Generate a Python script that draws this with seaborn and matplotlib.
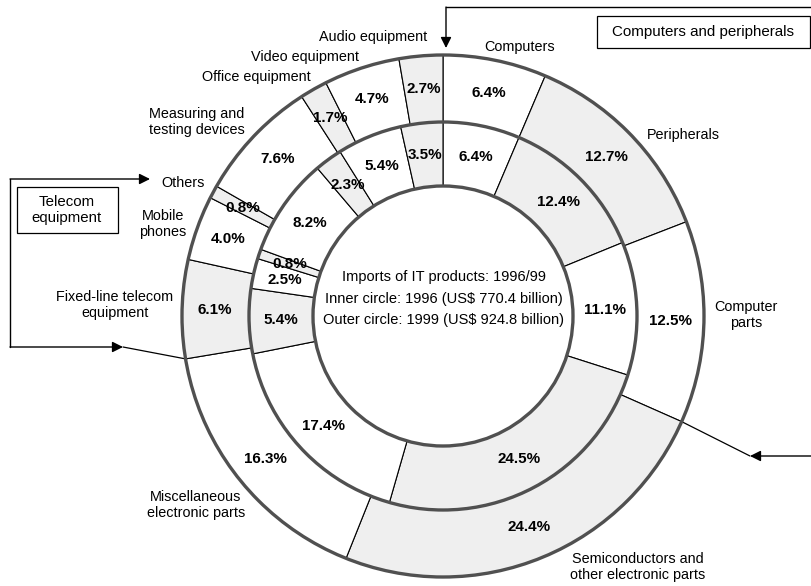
import numpy as np
import matplotlib
matplotlib.use("Agg")
import matplotlib.pyplot as plt
from matplotlib.patches import Circle, Rectangle
import seaborn as sns

# Data: shares of IT imports (%), clockwise from 12 o'clock
categories = ["Computers", "Peripherals", "Computer\nparts",
              "Semiconductors and\nother electronic parts",
              "Miscellaneous\nelectronic parts",
              "Fixed-line telecom\nequipment", "Mobile\nphones", "Others",
              "Measuring and\ntesting devices", "Office equipment",
              "Video equipment", "Audio equipment"]
share_1999 = [6.4, 12.7, 12.5, 24.4, 16.3, 6.1, 4.0, 0.8, 7.6, 1.7, 4.7, 2.7]
share_1996 = [6.4, 12.4, 11.1, 24.5, 17.4, 5.4, 2.5, 0.8, 8.2, 2.3, 5.4, 3.5]
center_lines = ["Imports of IT products: 1996/99",
                "Inner circle: 1996 (US$ 770.4 billion)",
                "Outer circle: 1999 (US$ 924.8 billion)"]

# Layout (pixel coordinates, y downwards)
CX, CY = 443, 316
R_OUT, R_MID, R_IN = 261, 194, 130
label_pos = [(520, 47), (683, 135), (746, 315), (638, 567), (196, 505),
             (115, 305), (163, 224), (183, 183), (197, 122), (256, 77),
             (305, 57), (373, 37)]

sns.set_theme(style="white")
plt.rcParams["font.family"] = ["Liberation Sans", "DejaVu Sans"]
plt.rcParams["text.color"] = "black"

fig = plt.figure(figsize=(8.12, 5.86), dpi=100)
ax = fig.add_axes([0, 0, 1, 1])

gray = "#efefef"
colors = ["white", gray] * 6
wp = dict(edgecolor="black", linewidth=0.8)

outer, _ = ax.pie(share_1999, radius=R_OUT, center=(CX, CY), startangle=-90,
                  counterclock=True, colors=colors,
                  wedgeprops=dict(width=R_OUT - R_MID, **wp))
inner, _ = ax.pie(share_1996, radius=R_MID, center=(CX, CY), startangle=-90,
                  counterclock=True, colors=colors,
                  wedgeprops=dict(width=R_MID - R_IN, **wp))

ax.set_xlim(0, 812)
ax.set_ylim(586, 0)
ax.set_aspect("equal")
ax.axis("off")

# thick ring outlines
for r in (R_OUT, R_MID, R_IN):
    ax.add_patch(Circle((CX, CY), r, fill=False, ec="#505050", lw=2.4, zorder=5))


def polar(theta, r):
    t = np.deg2rad(theta)
    return CX + r * np.cos(t), CY + r * np.sin(t)


# percentage labels at the middle of each wedge
for wedges, vals, rr in ((outer, share_1999, 228), (inner, share_1996, 162)):
    for w, v in zip(wedges, vals):
        x, y = polar((w.theta1 + w.theta2) / 2, rr)
        ax.text(x, y, f"{v:.1f}%", ha="center", va="center",
                fontsize=10.9, fontweight="bold", color="black", zorder=6)

# category labels
for name, (x, y) in zip(categories, label_pos):
    ax.text(x, y, name, ha="center", va="center", fontsize=10.4,
            linespacing=1.15, color="black", zorder=6)

# centre text
for i, line in enumerate(center_lines):
    ax.text(CX + 1, 277 + i * 21.5, line, ha="center", va="center",
            fontsize=10.5, color="black")

arrow = dict(arrowstyle="-|>", color="black", lw=1, mutation_scale=16,
             shrinkA=0, shrinkB=0)

# Computers and peripherals group
ax.add_patch(Rectangle((597, 16), 213, 32, fill=True, fc="white", ec="black", lw=0.9))
ax.text(703, 32, "Computers and peripherals", ha="center", va="center",
        fontsize=10.9, color="black")
ax.plot([812, 446], [7, 7], color="black", lw=1)
ax.annotate("", xy=(446, 48), xytext=(446, 7), arrowprops=arrow)
ax.annotate("", xy=(750, 456), xytext=(812, 456), arrowprops=arrow)
px, py = polar(outer[2].theta2, R_OUT)
ax.plot([750, px], [456, py], color="black", lw=0.9, zorder=4)

# Telecom equipment group
ax.add_patch(Rectangle((17, 187), 101, 46, fill=True, fc="white", ec="black", lw=0.9))
ax.text(67, 210, "Telecom\nequipment", ha="center", va="center", fontsize=10.8,
        linespacing=1.15, color="black")
ax.plot([10, 10], [179, 347], color="black", lw=1)
ax.annotate("", xy=(150, 179), xytext=(10, 179), arrowprops=arrow)
ax.annotate("", xy=(123, 347), xytext=(10, 347), arrowprops=arrow)
px, py = polar(outer[4].theta2, R_OUT)
ax.plot([123, px], [347, py], color="black", lw=0.9, zorder=4)

fig.savefig("out.png", dpi=100, facecolor="white")
